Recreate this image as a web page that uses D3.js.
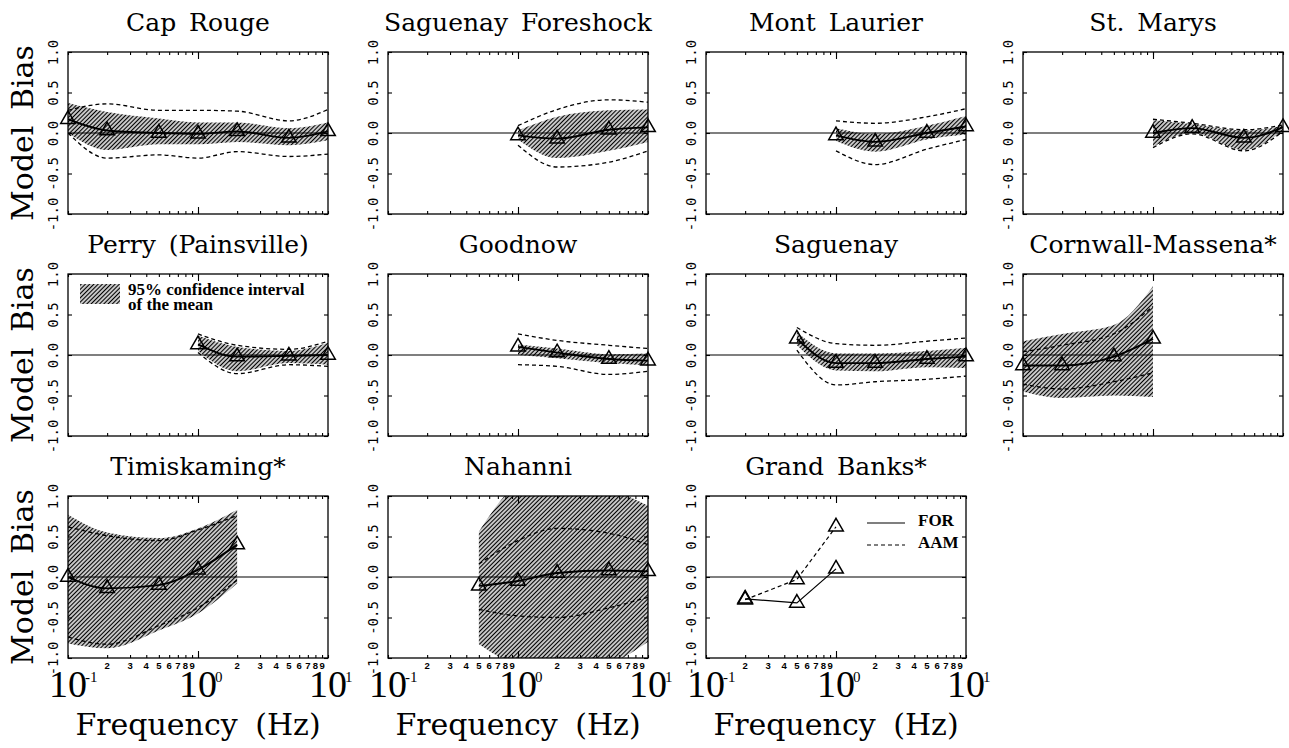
<!DOCTYPE html>
<html>
<head>
<meta charset="utf-8">
<script src="https://cdn.jsdelivr.net/npm/d3@7"></script>
<style>
  body { margin: 0; background: #fff; }
  text { fill: #000; }
</style>
</head>
<body>
<svg id="chart" width="1289" height="748"></svg>
<script>
//station names, one per panel (row by row)
const titles = ["Cap Rouge", "Saguenay Foreshock", "Mont Laurier", "St. Marys",
                "Perry (Painsville)", "Goodnow", "Saguenay", "Cornwall-Massena*",
                "Timiskaming*", "Nahanni", "Grand Banks*"]

//frequencies (Hz) of each panel
const freqs = [
    [0.1, 0.2, 0.5, 1, 2, 5, 10],
    [1, 2, 5, 10],
    [1, 2, 5, 10],
    [1, 2, 5, 10],
    [1, 2, 5, 10],
    [1, 2, 5, 10],
    [0.5, 1, 2, 5, 10],
    [0.1, 0.2, 0.5, 1],
    [0.1, 0.2, 0.5, 1, 2],
    [0.5, 1, 2, 5, 10],
    [0.2, 0.5, 1]
]

//mean model bias (last panel = FOR)
const meanBias = [
    [0.17, 0.03, 0.0, -0.01, 0.02, -0.06, 0.02],
    [-0.03, -0.07, 0.04, 0.07],
    [-0.03, -0.11, 0.0, 0.08],
    [0.0, 0.06, -0.06, 0.07],
    [0.13, -0.02, -0.01, 0.0],
    [0.1, 0.03, -0.05, -0.07],
    [0.2, -0.1, -0.1, -0.05, -0.02],
    [-0.13, -0.13, -0.02, 0.2],
    [0.0, -0.14, -0.1, 0.09, 0.4],
    [-0.11, -0.05, 0.05, 0.08, 0.07],
    [-0.27, -0.32, 0.1]
]

//grand banks, AAM model
const aamBias = [-0.28, -0.03, 0.62]

//95% confidence interval of the mean
const ciUpper = [
    [0.37, 0.26, 0.18, 0.13, 0.13, 0.06, 0.13],
    [0.03, 0.2, 0.28, 0.29],
    [0.06, -0.01, 0.09, 0.21],
    [0.16, 0.11, 0.03, 0.09],
    [0.24, 0.1, 0.05, 0.15],
    [0.13, 0.08, 0.01, 0.02],
    [0.28, 0.02, 0.02, 0.05, 0.09],
    [0.17, 0.26, 0.37, 0.85],
    [0.77, 0.55, 0.48, 0.6, 0.83],
    [0.56, 1.15, 1.3, 1.1, 0.88],
    null
]
const ciLower = [
    [0.0, -0.21, -0.14, -0.14, -0.11, -0.15, -0.09],
    [-0.08, -0.31, -0.22, -0.11],
    [-0.1, -0.23, -0.08, -0.02],
    [-0.17, 0.0, -0.21, 0.03],
    [0.05, -0.2, -0.1, -0.12],
    [0.0, -0.04, -0.1, -0.13],
    [0.12, -0.19, -0.2, -0.15, -0.16],
    [-0.45, -0.53, -0.5, -0.52],
    [-0.82, -0.88, -0.66, -0.45, -0.08],
    [-0.83, -1.1, -1.2, -1.08, -0.8],
    null
]

//dashed lines (standard deviation)
const sdUpper = [
    [0.28, 0.36, 0.28, 0.28, 0.27, 0.15, 0.29],
    [0.09, 0.29, 0.41, 0.38],
    [0.15, 0.12, 0.2, 0.3],
    [0.17, 0.12, 0.04, 0.1],
    [0.26, 0.12, 0.07, 0.17],
    [0.26, 0.18, 0.12, 0.08],
    [0.34, 0.14, 0.12, 0.17, 0.21],
    [0.04, 0.12, 0.26, 0.6],
    [0.62, 0.51, 0.45, 0.58, 0.76],
    [0.16, 0.45, 0.6, 0.54, 0.4],
    null
]
const sdLower = [
    [0.0, -0.31, -0.27, -0.31, -0.23, -0.29, -0.26],
    [-0.15, -0.42, -0.36, -0.22],
    [-0.22, -0.39, -0.2, -0.08],
    [-0.18, -0.01, -0.22, 0.02],
    [0.03, -0.23, -0.12, -0.14],
    [-0.12, -0.14, -0.24, -0.2],
    [0.06, -0.37, -0.33, -0.3, -0.26],
    [-0.36, -0.42, -0.33, -0.22],
    [-0.74, -0.83, -0.6, -0.38, -0.04],
    [-0.4, -0.48, -0.5, -0.38, -0.25],
    null
]

const yTicks = [-1, -0.5, 0, 0.5, 1]
const decades = [0.1, 1, 10]
const minorDigits = [2, 3, 4, 5, 6, 7, 8, 9]
const expLabels = ["-1", "0", "1"]

//layout
const colLeft = [68, 388, 706, 1023]
const rowTop = [52, 274, 496]
const panelW = 260, panelH = 162

const svg = d3.select("#chart")
const defs = svg.append("defs")

//diagonal hatching
defs.append("pattern")
    .attr("id", "hatch")
    .attr("patternUnits", "userSpaceOnUse")
    .attr("width", 3).attr("height", 3)
    .attr("patternTransform", "rotate(45)")
  .append("line")
    .attr("x1", 1.5).attr("y1", 0).attr("x2", 1.5).attr("y2", 3)
    .attr("stroke", "#000").attr("stroke-width", 1.45)

const x = d3.scaleLog().domain([0.1, 10]).range([0, panelW])
const y = d3.scaleLinear().domain([-1, 1]).range([panelH, 0])

const tickVals = []
decades.slice(0, 2).forEach(d => d3.range(1, 10).forEach(k => tickVals.push(k * d)))
tickVals.push(10)

const lineGen = d3.line().x(d => x(d.f)).y(d => y(d.v)).curve(d3.curveMonotoneX)
const areaGen = d3.area().x(d => x(d.f)).y0(d => y(d.lo)).y1(d => y(d.hi)).curve(d3.curveMonotoneX)
const tri = d3.symbol().type(d3.symbolTriangle).size(92)

const drawPanel = (i) => {
    const col = i % 4, row = Math.floor(i / 4)
    const g = svg.append("g").attr("transform", `translate(${colLeft[col]},${rowTop[row]})`)

    defs.append("clipPath").attr("id", `clip${i}`)
      .append("rect").attr("width", panelW).attr("height", panelH)

    //title
    g.append("text")
        .attr("x", panelW / 2).attr("y", -21)
        .attr("text-anchor", "middle")
        .style("font-family", "DejaVu Serif").style("font-size", "25px")
        .style("word-spacing", "5px")
        .text(titles[i])

    const plot = g.append("g").attr("clip-path", `url(#clip${i})`)
    const fs = freqs[i]

    //confidence band
    if (ciUpper[i]) {
        const band = fs.map((f, j) => ({f: f, lo: ciLower[i][j], hi: ciUpper[i][j]}))
        plot.append("path").datum(band)
            .attr("d", areaGen)
            .attr("fill", "url(#hatch)")
    }

    //zero line
    plot.append("line")
        .attr("x1", 0).attr("x2", panelW)
        .attr("y1", y(0)).attr("y2", y(0))
        .attr("stroke", "#000").attr("stroke-width", 1.1)

    //dashed lines
    if (sdUpper[i]) {
        [sdUpper[i], sdLower[i]].forEach(vals => {
            plot.append("path").datum(fs.map((f, j) => ({f: f, v: vals[j]})))
                .attr("d", lineGen)
                .attr("fill", "none").attr("stroke", "#000")
                .attr("stroke-width", 1.3).attr("stroke-dasharray", "4,3")
        })
    }

    //mean line + triangles
    const series = [{vals: meanBias[i], dash: null}]
    if (i === 10) series.push({vals: aamBias, dash: "4,3"})
    series.forEach(s => {
        const pts = fs.map((f, j) => ({f: f, v: s.vals[j]}))
        plot.append("path").datum(pts)
            .attr("d", i === 10 ? lineGen.curve(d3.curveLinear)(pts) : lineGen.curve(d3.curveMonotoneX)(pts))
            .attr("fill", "none").attr("stroke", "#000")
            .attr("stroke-width", i === 10 ? 1.2 : 1.9)
            .attr("stroke-dasharray", s.dash)
        g.selectAll(null).data(pts).enter().append("path")
            .attr("d", tri)
            .attr("transform", d => `translate(${x(d.f)},${y(d.v)})`)
            .attr("fill", "none").attr("stroke", "#000").attr("stroke-width", 1.5)
    })
    lineGen.curve(d3.curveMonotoneX)

    //frame
    g.append("rect")
        .attr("width", panelW).attr("height", panelH)
        .attr("fill", "none").attr("stroke", "#000").attr("stroke-width", 1.3)

    //x ticks, bottom and top, inward
    g.append("g").attr("transform", `translate(0,${panelH})`)
        .call(d3.axisBottom(x).tickValues(tickVals).tickSize(-3).tickFormat(""))
    g.append("g").attr("transform", `translate(0,${panelH})`)
        .call(d3.axisBottom(x).tickValues([1]).tickSize(-7).tickFormat(""))
    g.append("g")
        .call(d3.axisTop(x).tickValues(tickVals).tickSize(-3).tickFormat(""))
    g.append("g")
        .call(d3.axisTop(x).tickValues([1]).tickSize(-7).tickFormat(""))

    //y ticks with rotated labels
    const ya = g.append("g")
        .call(d3.axisLeft(y).tickValues(yTicks).tickSize(-4).tickFormat(d3.format(".1f")))
    ya.selectAll(".tick text")
        .attr("transform", "rotate(-90)")
        .attr("x", 0).attr("y", -10).attr("dy", 0)
        .attr("text-anchor", "middle")
        .style("font-family", "DejaVu Sans Mono").style("font-size", "14px")
        .text(d => d3.format(".1f")(d).replace("−", "-"))
    g.append("g").attr("transform", `translate(${panelW},0)`)
        .call(d3.axisRight(y).tickValues(yTicks).tickSize(-4).tickFormat(""))

    g.selectAll(".domain").remove()
    g.selectAll(".tick line").attr("stroke", "#000").attr("stroke-width", 1.1)

    //y axis title on first column
    if (col === 0) {
        svg.append("text")
            .attr("transform", `translate(33,${rowTop[row] + panelH / 2}) rotate(-90)`)
            .attr("text-anchor", "middle")
            .style("font-family", "DejaVu Serif").style("font-size", "30px")
            .style("word-spacing", "6px")
            .text("Model Bias")
    }

    //bottom row: frequency labels
    if (row === 2) {
        decades.slice(0, 2).forEach(d => {
            g.selectAll(null).data(minorDigits).enter().append("text")
                .attr("x", k => x(k * d)).attr("y", panelH + 11)
                .attr("text-anchor", "middle")
                .style("font-family", "Liberation Sans").style("font-weight", "bold")
                .style("font-size", "9.5px")
                .text(k => k)
        })
        decades.forEach((d, j) => {
            g.append("text")
                .attr("x", x(d)).attr("y", panelH + 39)
                .attr("text-anchor", "middle")
                .style("font-family", "Liberation Serif").style("font-size", "38px")
                .text("10")
            g.append("text")
                .attr("x", x(d) + 17).attr("y", panelH + 24)
                .style("font-family", "Liberation Serif").style("font-size", "15px")
                .text(expLabels[j])
        })
        g.append("text")
            .attr("x", panelW / 2).attr("y", panelH + 77)
            .attr("text-anchor", "middle")
            .style("font-family", "DejaVu Serif").style("font-size", "30px")
            .style("word-spacing", "8px")
            .text("Frequency (Hz)")
    }
    return g
}

const panels = titles.map((t, i) => drawPanel(i))

//legend for the confidence band (Perry panel)
const perry = panels[4]
perry.append("rect")
    .attr("x", 12).attr("y", 10).attr("width", 40).attr("height", 20)
    .attr("fill", "url(#hatch)")
perry.selectAll(null).data(["95% confidence interval", "of the mean"]).enter().append("text")
    .attr("x", 60).attr("y", (d, j) => 21 + j * 15)
    .style("font-family", "Liberation Serif").style("font-weight", "bold").style("font-size", "17px")
    .text(d => d)

//legend for grand banks
const gb = panels[10]
const legendItems = [{name: "FOR", dash: null}, {name: "AAM", dash: "4,3"}]
legendItems.forEach((d, j) => {
    gb.append("line")
        .attr("x1", 161).attr("x2", 199)
        .attr("y1", 27 + j * 22).attr("y2", 27 + j * 22)
        .attr("stroke", "#000").attr("stroke-width", 1.2)
        .attr("stroke-dasharray", d.dash)
    gb.append("text")
        .attr("x", 212).attr("y", 30 + j * 22)
        .style("font-family", "Liberation Serif").style("font-weight", "bold").style("font-size", "17px")
        .text(d.name)
})
</script>
</body>
</html>
